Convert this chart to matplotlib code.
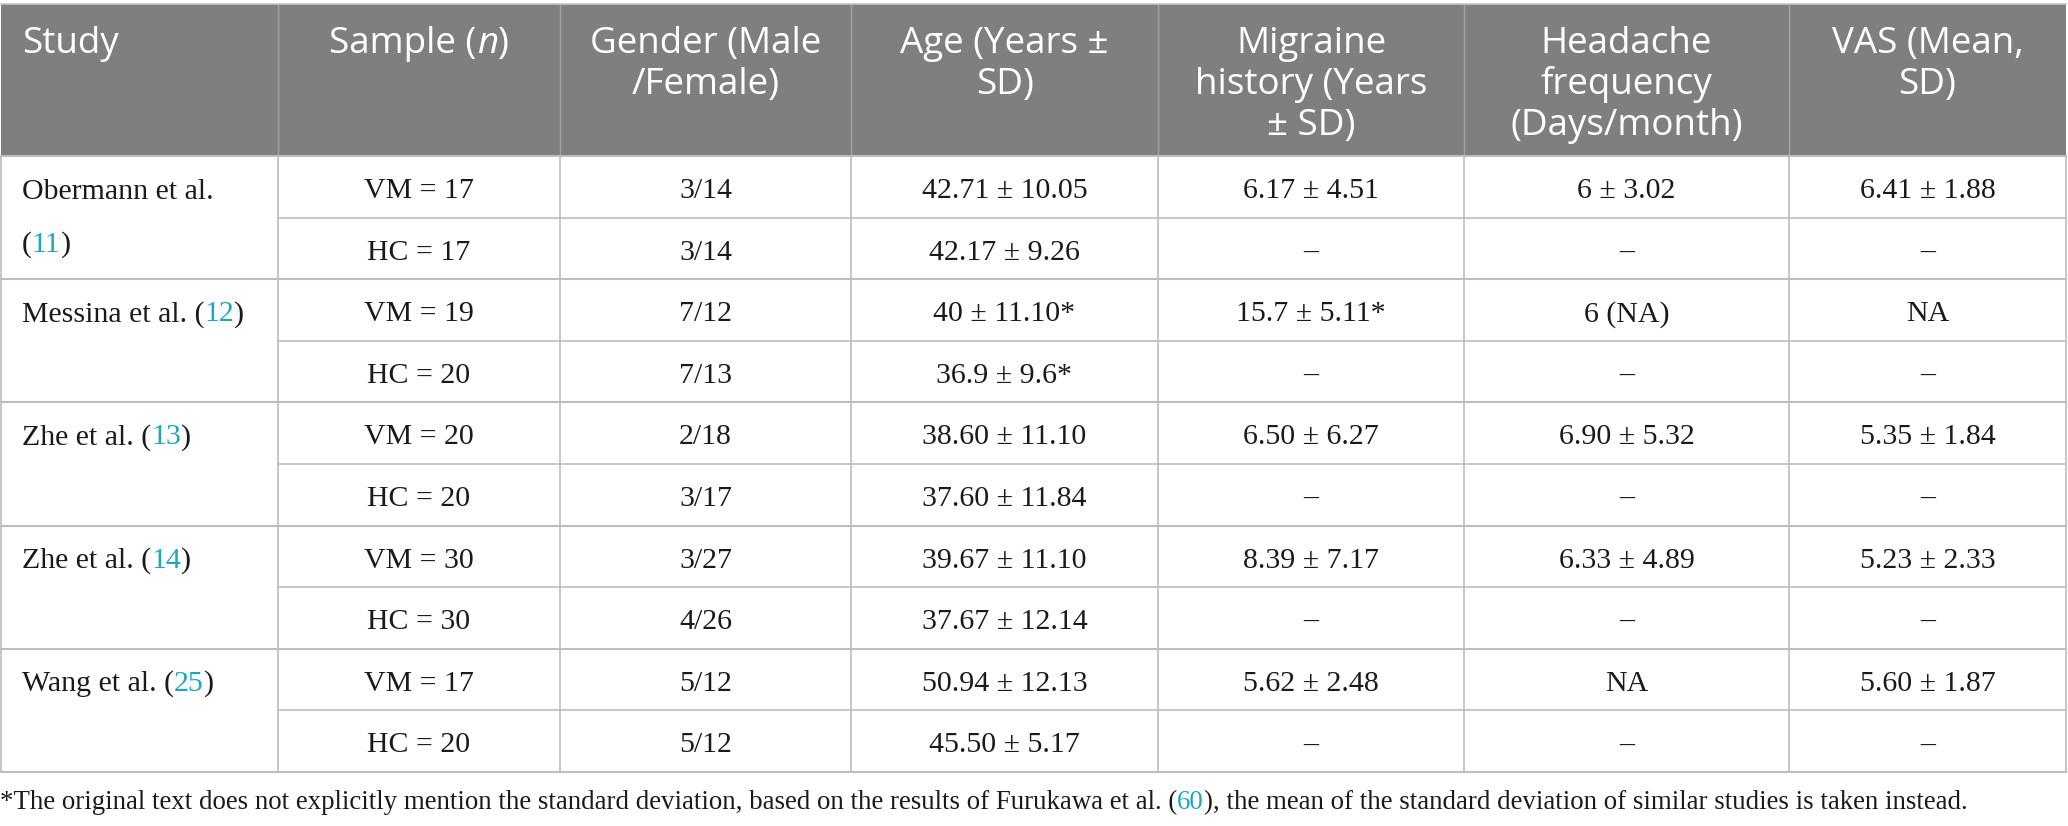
import matplotlib
matplotlib.use("Agg")
import matplotlib.pyplot as plt

# ---------------- data ----------------
header_lines = [
    ["Study"],
    ["Sample (n)"],
    ["Gender (Male", "/Female)"],
    ["Age (Years ±", "SD)"],
    ["Migraine", "history (Years", "± SD)"],
    ["Headache", "frequency", "(Days/month)"],
    ["VAS (Mean,", "SD)"],
]
studies = ["Obermann et al.", "Messina et al.", "Zhe et al.", "Zhe et al.", "Wang et al."]
refs = ["11", "12", "13", "14", "25"]
samples = ["VM = 17", "HC = 17", "VM = 19", "HC = 20", "VM = 20", "HC = 20",
           "VM = 30", "HC = 30", "VM = 17", "HC = 20"]
gender = ["3/14", "3/14", "7/12", "7/13", "2/18", "3/17", "3/27", "4/26", "5/12", "5/12"]
age = ["42.71 ± 10.05", "42.17 ± 9.26", "40 ± 11.10*", "36.9 ± 9.6*", "38.60 ± 11.10",
       "37.60 ± 11.84", "39.67 ± 11.10", "37.67 ± 12.14", "50.94 ± 12.13", "45.50 ± 5.17"]
migraine = ["6.17 ± 4.51", "–", "15.7 ± 5.11*", "–", "6.50 ± 6.27", "–",
            "8.39 ± 7.17", "–", "5.62 ± 2.48", "–"]
headache = ["6 ± 3.02", "–", "6 (NA)", "–", "6.90 ± 5.32", "–",
            "6.33 ± 4.89", "–", "NA", "–"]
vas = ["6.41 ± 1.88", "–", "NA", "–", "5.35 ± 1.84", "–",
       "5.23 ± 2.33", "–", "5.60 ± 1.87", "–"]
foot_pre = "*The original text does not explicitly mention the standard deviation, based on the results of Furukawa et al. ("
foot_ref = "60"
foot_post = "), the mean of the standard deviation of similar studies is taken instead."

# ---------------- layout ----------------
W, H = 2068, 826
col_x = [1, 278, 560, 851, 1158, 1464, 1789, 2066]
top, head_bot = 4, 156
row_h = 61.6
n_rows = len(samples)
bottom = head_bot + row_h * n_rows

header_bg = "#7f807e"
grid_col = "#bdbdbd"
head_grid = "#a3a3a3"
teal = "#1aa7c1"
body_font = "Liberation Serif"
head_font = "Open Sans"
body_size = 21.5
head_size = 26.5

fig = plt.figure(figsize=(W / 100, H / 100), dpi=100)
ax = fig.add_axes([0, 0, 1, 1])
ax.set_xlim(0, W)
ax.set_ylim(H, 0)
ax.axis("off")
renderer = fig.canvas.get_renderer()


def draw_runs(x, y, runs, ha="left", **common):
    texts, widths = [], []
    for s, props in runs:
        kw = dict(common)
        kw.update(props)
        t = ax.text(0, y, s, va="baseline", ha="left", **kw)
        widths.append(t.get_window_extent(renderer).width)
        texts.append(t)
    total = sum(widths)
    cur = x - total / 2 if ha == "center" else x
    for t, w in zip(texts, widths):
        t.set_x(cur)
        cur += w
    return total


# header background
ax.add_patch(plt.Rectangle((col_x[0], top), col_x[-1] - col_x[0], head_bot - top,
                           facecolor=header_bg, edgecolor="none", zorder=0))
ax.plot([col_x[0], col_x[-1]], [top, top], color="#c4c4c4", lw=1.2, zorder=2)
for cx in col_x[1:-1]:
    ax.plot([cx, cx], [top, head_bot], color=head_grid, lw=1.0, zorder=1)

# header text
head_base0, head_step = 53, 41
for ci, lines in enumerate(header_lines):
    cx = (col_x[ci] + col_x[ci + 1]) / 2
    for li, line in enumerate(lines):
        yb = head_base0 + head_step * li
        common = dict(family=head_font, fontsize=head_size, color="white")
        if ci == 0:
            ax.text(22, yb, line, va="baseline", ha="left", **common)
        elif "(n)" in line:
            draw_runs(cx, yb, [("Sample (", {}), ("n", {"style": "italic"}), (")", {})],
                      ha="center", **common)
        else:
            ax.text(cx, yb, line, va="baseline", ha="center", **common)

# grid lines in body
for k in range(n_rows + 1):
    y = head_bot + row_h * k
    x0 = col_x[0] if k % 2 == 0 else col_x[1]
    ax.plot([x0, col_x[-1]], [y, y], color=grid_col, lw=1.5 if k % 2 == 0 else 1.2, zorder=2)
for cx in col_x:
    ax.plot([cx, cx], [head_bot, bottom], color=grid_col, lw=1.2, zorder=2)

# body text
body = dict(family=body_font, fontsize=body_size, color="#1a1a1a")
base_off = 42
for si, (name, ref) in enumerate(zip(studies, refs)):
    ytop = head_bot + row_h * 2 * si
    if si == 0:
        ax.text(22, ytop + 43, name, va="baseline", ha="left", **body)
        draw_runs(22, ytop + 96, [("(", {}), (ref, {"color": teal}), (")", {})], **body)
    else:
        draw_runs(22, ytop + base_off, [(name + " (", {}), (ref, {"color": teal}), (")", {})], **body)

cols = [samples, gender, age, migraine, headache, vas]
for ci, vals in enumerate(cols, start=1):
    cx = (col_x[ci] + col_x[ci + 1]) / 2
    for ri, v in enumerate(vals):
        yb = head_bot + row_h * ri + base_off
        ax.text(cx, yb, v, va="baseline", ha="center", **body)

# footnote, fitted to the reference width
foot_common = dict(family=body_font, color="#1a1a1a")
fs = 18.0
tmp = draw_runs(0, 809, [(foot_pre, {}), (foot_ref, {}), (foot_post, {})], fontsize=fs, **foot_common)
for t in list(ax.texts[-3:]):
    t.remove()
fs = fs * 1975 / tmp
draw_runs(0, 809, [(foot_pre, {}), (foot_ref, {"color": teal}), (foot_post, {})],
          fontsize=fs, **foot_common)

fig.savefig("out.png", dpi=100, facecolor="white")
